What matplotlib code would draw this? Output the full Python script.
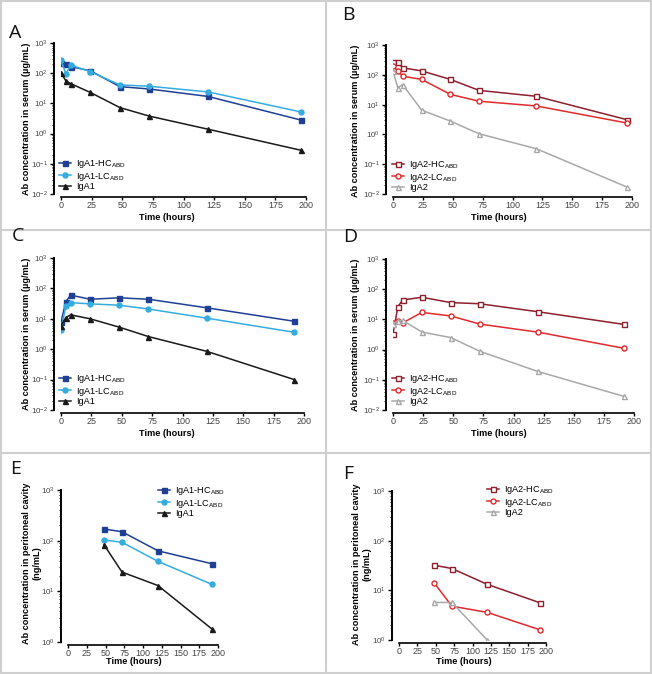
import math
import matplotlib
matplotlib.use('Agg')
import matplotlib.pyplot as plt
from matplotlib.lines import Line2D
from matplotlib.ticker import LogLocator, FixedLocator, NullFormatter

plt.rcParams['font.family'] = ['Liberation Sans', 'DejaVu Sans']
plt.rcParams['mathtext.fontset'] = 'custom'
plt.rcParams['mathtext.rm'] = 'Liberation Sans'
plt.rcParams['mathtext.it'] = 'Liberation Sans'
plt.rcParams['axes.unicode_minus'] = False

# ---------------- data ----------------
t_serum_ab = [0, 4, 8, 24, 48, 72, 120, 196]
t_serum_cd = [0, 4, 8, 24, 48, 72, 120, 192]
t_perit = [48, 72, 120, 192]

A_hc = [225, 200, 165, 120, 36, 30, 17, 2.8]
A_lc = [265, 95, 185, 112, 41, 37, 24, 5.2]
A_iga1 = [105, 55, 45, 23, 7.3, 3.8, 1.4, 0.28]

B_hc = [260, 260, 172, 135, 70, 30, 19, 3.1]
B_lc = [200, 135, 90, 70, 22, 13, 9, 2.4]
B_iga2 = [134, 37, 47, 6.5, 2.8, 1.05, 0.33, 0.017]

C_hc = [7.8, 37, 60, 44, 49, 44, 23, 8.3]
C_lc = [4.4, 26, 34, 31, 28, 21, 10.5, 3.6]
C_iga1 = [6, 11, 13.5, 10, 5.3, 2.6, 0.85, 0.1]

D_hc = [3.3, 26, 44, 54, 36, 33, 18, 6.8]
D_lc = [7.5, 8.8, 7.7, 17, 13, 7, 3.8, 1.1]
D_iga2 = [7, 9, 9.3, 3.8, 2.5, 0.88, 0.19, 0.028]

E_hc = [170, 150, 63, 35]
E_lc = [103, 93, 39, 13.7]
E_iga1 = [83, 24, 13, 1.8]

F_hc = [32, 27.5, 13.2, 5.6]
F_lc = [14, 4.8, 3.6, 1.6]
F_iga2 = [5.7, 5.7, 1.0, None]

labels_iga1 = ['IgA1-HC$_{\\mathregular{ABD}}$', 'IgA1-LC$_{\\mathregular{ABD}}$', 'IgA1']
labels_iga2 = ['IgA2-HC$_{\\mathregular{ABD}}$', 'IgA2-LC$_{\\mathregular{ABD}}$', 'IgA2']
x_ticks = [0, 25, 50, 75, 100, 125, 150, 175, 200]

# ---------------- styles ----------------
sty_iga1 = [dict(color='#1f3f94', marker='s', mfc='#1f3f94', mec='#1f3f94'),
            dict(color='#35ace0', marker='o', mfc='#35ace0', mec='#35ace0'),
            dict(color='#1a1a1a', marker='^', mfc='#1a1a1a', mec='#1a1a1a')]
sty_iga2 = [dict(color='#8e1f2c', marker='s', mfc='white', mec='#8e1f2c'),
            dict(color='#e2292e', marker='o', mfc='white', mec='#e2292e'),
            dict(color='#a8a8a8', marker='^', mfc='white', mec='#a8a8a8')]

W, H = 652, 674
fig = plt.figure(figsize=(W / 100, H / 100), dpi=100)


def px_axes(l, r, t, b):
    return fig.add_axes([l / W, 1 - b / H, (r - l) / W, (b - t) / H])


panels = [
    ('A', (61, 306, 43, 194), t_serum_ab, [A_hc, A_lc, A_iga1], labels_iga1, sty_iga1, (1e-2, 1e3),
     (59, 157), (15, 33), (27, 119), (167, 217), 'Ab concentration in serum (µg/mL)'),
    ('B', (393, 632, 45, 194), t_serum_ab, [B_hc, B_lc, B_iga2], labels_iga2, sty_iga2, (1e-2, 1e3),
     (392, 158), (348, 15), (356, 121), (499, 217), 'Ab concentration in serum (µg/mL)'),
    ('C', (61, 304, 258, 410), t_serum_cd, [C_hc, C_lc, C_iga1], labels_iga1, sty_iga1, (1e-2, 1e3),
     (59, 372), (18, 236), (27, 334), (167, 433), 'Ab concentration in serum (µg/mL)'),
    ('D', (393, 634, 259, 410), t_serum_cd, [D_hc, D_lc, D_iga2], labels_iga2, sty_iga2, (1e-2, 1e3),
     (392, 372), (350, 237), (356, 335), (499, 433), 'Ab concentration in serum (µg/mL)'),
    ('E', (68, 218, 490, 642), t_perit, [E_hc, E_lc, E_iga1], labels_iga1, sty_iga1, (1e0, 1e3),
     (158, 484), (16, 469), (32, 563), (134, 662), 'Ab concentration in peritoneal cavity\n(ng/mL)'),
    ('F', (399, 546, 491, 640), t_perit, [F_hc, F_lc, F_iga2], labels_iga2, sty_iga2, (1e0, 1e3),
     (487, 483), (348, 474), (362, 564), (464, 662), 'Ab concentration in peritoneal cavity\n(ng/mL)'),
]

for (letter, box, times, series, labels, styles, ylim, legpos, letpos, ylpos, xlpos, ylabel) in panels:
    ax = px_axes(*box)
    handles = []
    for vals, lab, st in zip(series, labels, styles):
        tt = [t for t, v in zip(times, vals) if v is not None]
        vv = [v for v in vals if v is not None]
        h, = ax.plot(tt, vv, lw=1.1, ms=3.6, mew=1.0, label=lab, **st)
        handles.append(h)
    ax.set_yscale('log')
    ax.set_xlim(0, 200)
    ax.set_ylim(*ylim)
    lo, hi = ylim
    majors = [10.0 ** k for k in range(int(round(math.log10(lo))), int(round(math.log10(hi))) + 1)]
    ax.yaxis.set_major_locator(FixedLocator(majors))
    ax.yaxis.set_minor_locator(LogLocator(base=10, subs=range(2, 10)))
    ax.yaxis.set_minor_formatter(NullFormatter())
    ax.set_xticks(x_ticks)
    for s in ['top', 'right']:
        ax.spines[s].set_visible(False)
    ax.spines['left'].set_position(('outward', 5))
    ax.spines['bottom'].set_position(('outward', 2))
    ax.spines['left'].set_linewidth(1.4)
    ax.spines['bottom'].set_linewidth(1.2)
    ax.tick_params(axis='y', which='major', direction='out', length=3, width=1.0,
                   labelsize=5.8, labelcolor='#444444', pad=1.5)
    ax.tick_params(axis='x', which='major', direction='out', length=2, width=1.0,
                   labelsize=6.5, labelcolor='#444444', pad=0.8)
    ax.tick_params(axis='y', which='minor', direction='out', length=1.6, width=0.6)
    ax.patch.set_alpha(0)

    ax.legend(handles=handles, loc='upper left',
              bbox_to_anchor=(legpos[0] / W, 1 - legpos[1] / H),
              bbox_transform=fig.transFigure, frameon=False, fontsize=6.6,
              handlelength=1.35, handletextpad=0.5, labelspacing=-0.05,
              borderpad=0, borderaxespad=0)

    fig.text(letpos[0] / W, 1 - letpos[1] / H, letter, fontsize=14, family='Open Sans',
             ha='center', va='center', color='#111111')
    fig.text(ylpos[0] / W, 1 - ylpos[1] / H, ylabel, rotation=90, fontsize=6.6,
             fontweight='bold', ha='center', va='center', multialignment='center',
             linespacing=1.15)
    fig.text(xlpos[0] / W, 1 - xlpos[1] / H, 'Time (hours)', fontsize=6.6,
             fontweight='bold', ha='center', va='center')

# cell borders
border = '#cfcfcf'
for x in [1, 326, 651]:
    fig.add_artist(Line2D([x / W, x / W], [0, 1], color=border, lw=1.5))
for y in [1, 230, 453, 673]:
    fig.add_artist(Line2D([0, 1], [1 - y / H, 1 - y / H], color=border, lw=1.5))

fig.savefig('out.png', dpi=100, facecolor='white')
